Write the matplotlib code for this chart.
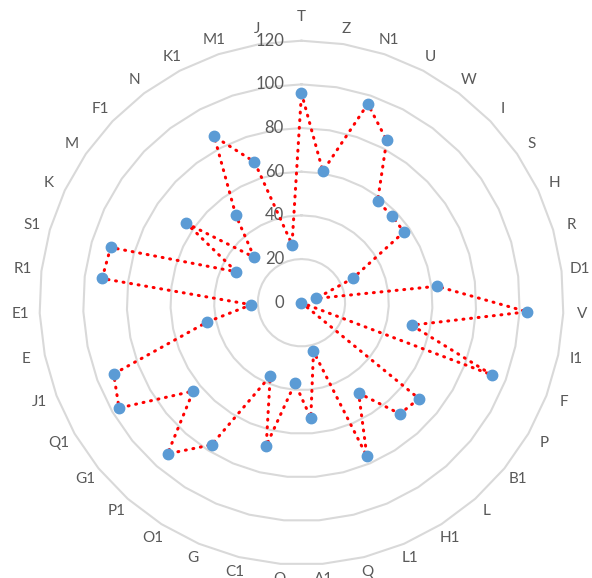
import numpy as np
import matplotlib
matplotlib.use('Agg')
import matplotlib.pyplot as plt

plt.rcParams['font.family'] = ['Lato', 'DejaVu Sans']

# categories around the radar, clockwise from the top
labels = ['T', 'Z', 'N1', 'U', 'W', 'I', 'S', 'H', 'R', 'D1', 'V', 'I1', 'F',
          'P', 'B1', 'L', 'H1', 'L1', 'Q', 'A1', 'O', 'C1', 'G', 'O1', 'P1',
          'G1', 'Q1', 'J1', 'E', 'E1', 'R1', 'S1', 'K', 'M', 'F1', 'N', 'K1',
          'M1', 'J']
values = [96, 61, 96, 84, 58, 57.5, 57, 26, 7, 62.5, 103.5, 51.5, 93.5,
          0, 69.5, 68, 49, 76.5, 23, 53, 37, 67.5, 36.5, 77, 92.5,
          64, 96.5, 92, 44, 23, 92, 91, 33, 64, 30, 50, 86,
          68, 27]
rings = [20, 40, 60, 80, 100, 120]

n = len(labels)
ang = np.arange(n) * 2 * np.pi / n

fig = plt.figure(figsize=(5.92, 5.78), dpi=100)
ax = fig.add_axes([0.0667, 0.0230, 0.8851, 0.9066], polar=True)
ax.set_theta_zero_location('N')
ax.set_theta_direction(-1)
ax.set_ylim(0, 120)
ax.spines['polar'].set_visible(False)
ax.grid(False)
ax.set_xticks([])
ax.set_yticks([])
ax.patch.set_alpha(0)

# polygon gridlines
ang_c = np.append(ang, ang[0])
for r in rings:
    ax.plot(ang_c, [r] * len(ang_c), color='#D9D9D9', lw=1.5, zorder=1,
            clip_on=False)

# value axis labels, left of the vertical spoke
for r in [0] + rings:
    ax.annotate(str(r), xy=(0, r), xytext=(-12.6, 0), textcoords='offset points',
                ha='right', va='center', fontsize=12, color='#595959')

# category labels just outside the outer ring
for i, (a, lab) in enumerate(zip(ang, labels)):
    rpx = 277 + 4 * np.sin(a) ** 2
    if i == 0:
        rpx = 286
    ax.text(a, rpx / 262 * 120, lab, ha='center', va='center', fontsize=11,
            color='#595959', clip_on=False)

vals_c = np.append(values, values[0])
ax.plot(ang_c, vals_c, color='#FF0000', lw=2.2,
        linestyle=(0, (0.3, 2.2)), dash_capstyle='round', zorder=3,
        clip_on=False)
ax.plot(ang, values, linestyle='none', marker='o', markersize=7.5,
        color='#5B9BD5', zorder=4, clip_on=False)

plt.savefig('out.png', dpi=100)
